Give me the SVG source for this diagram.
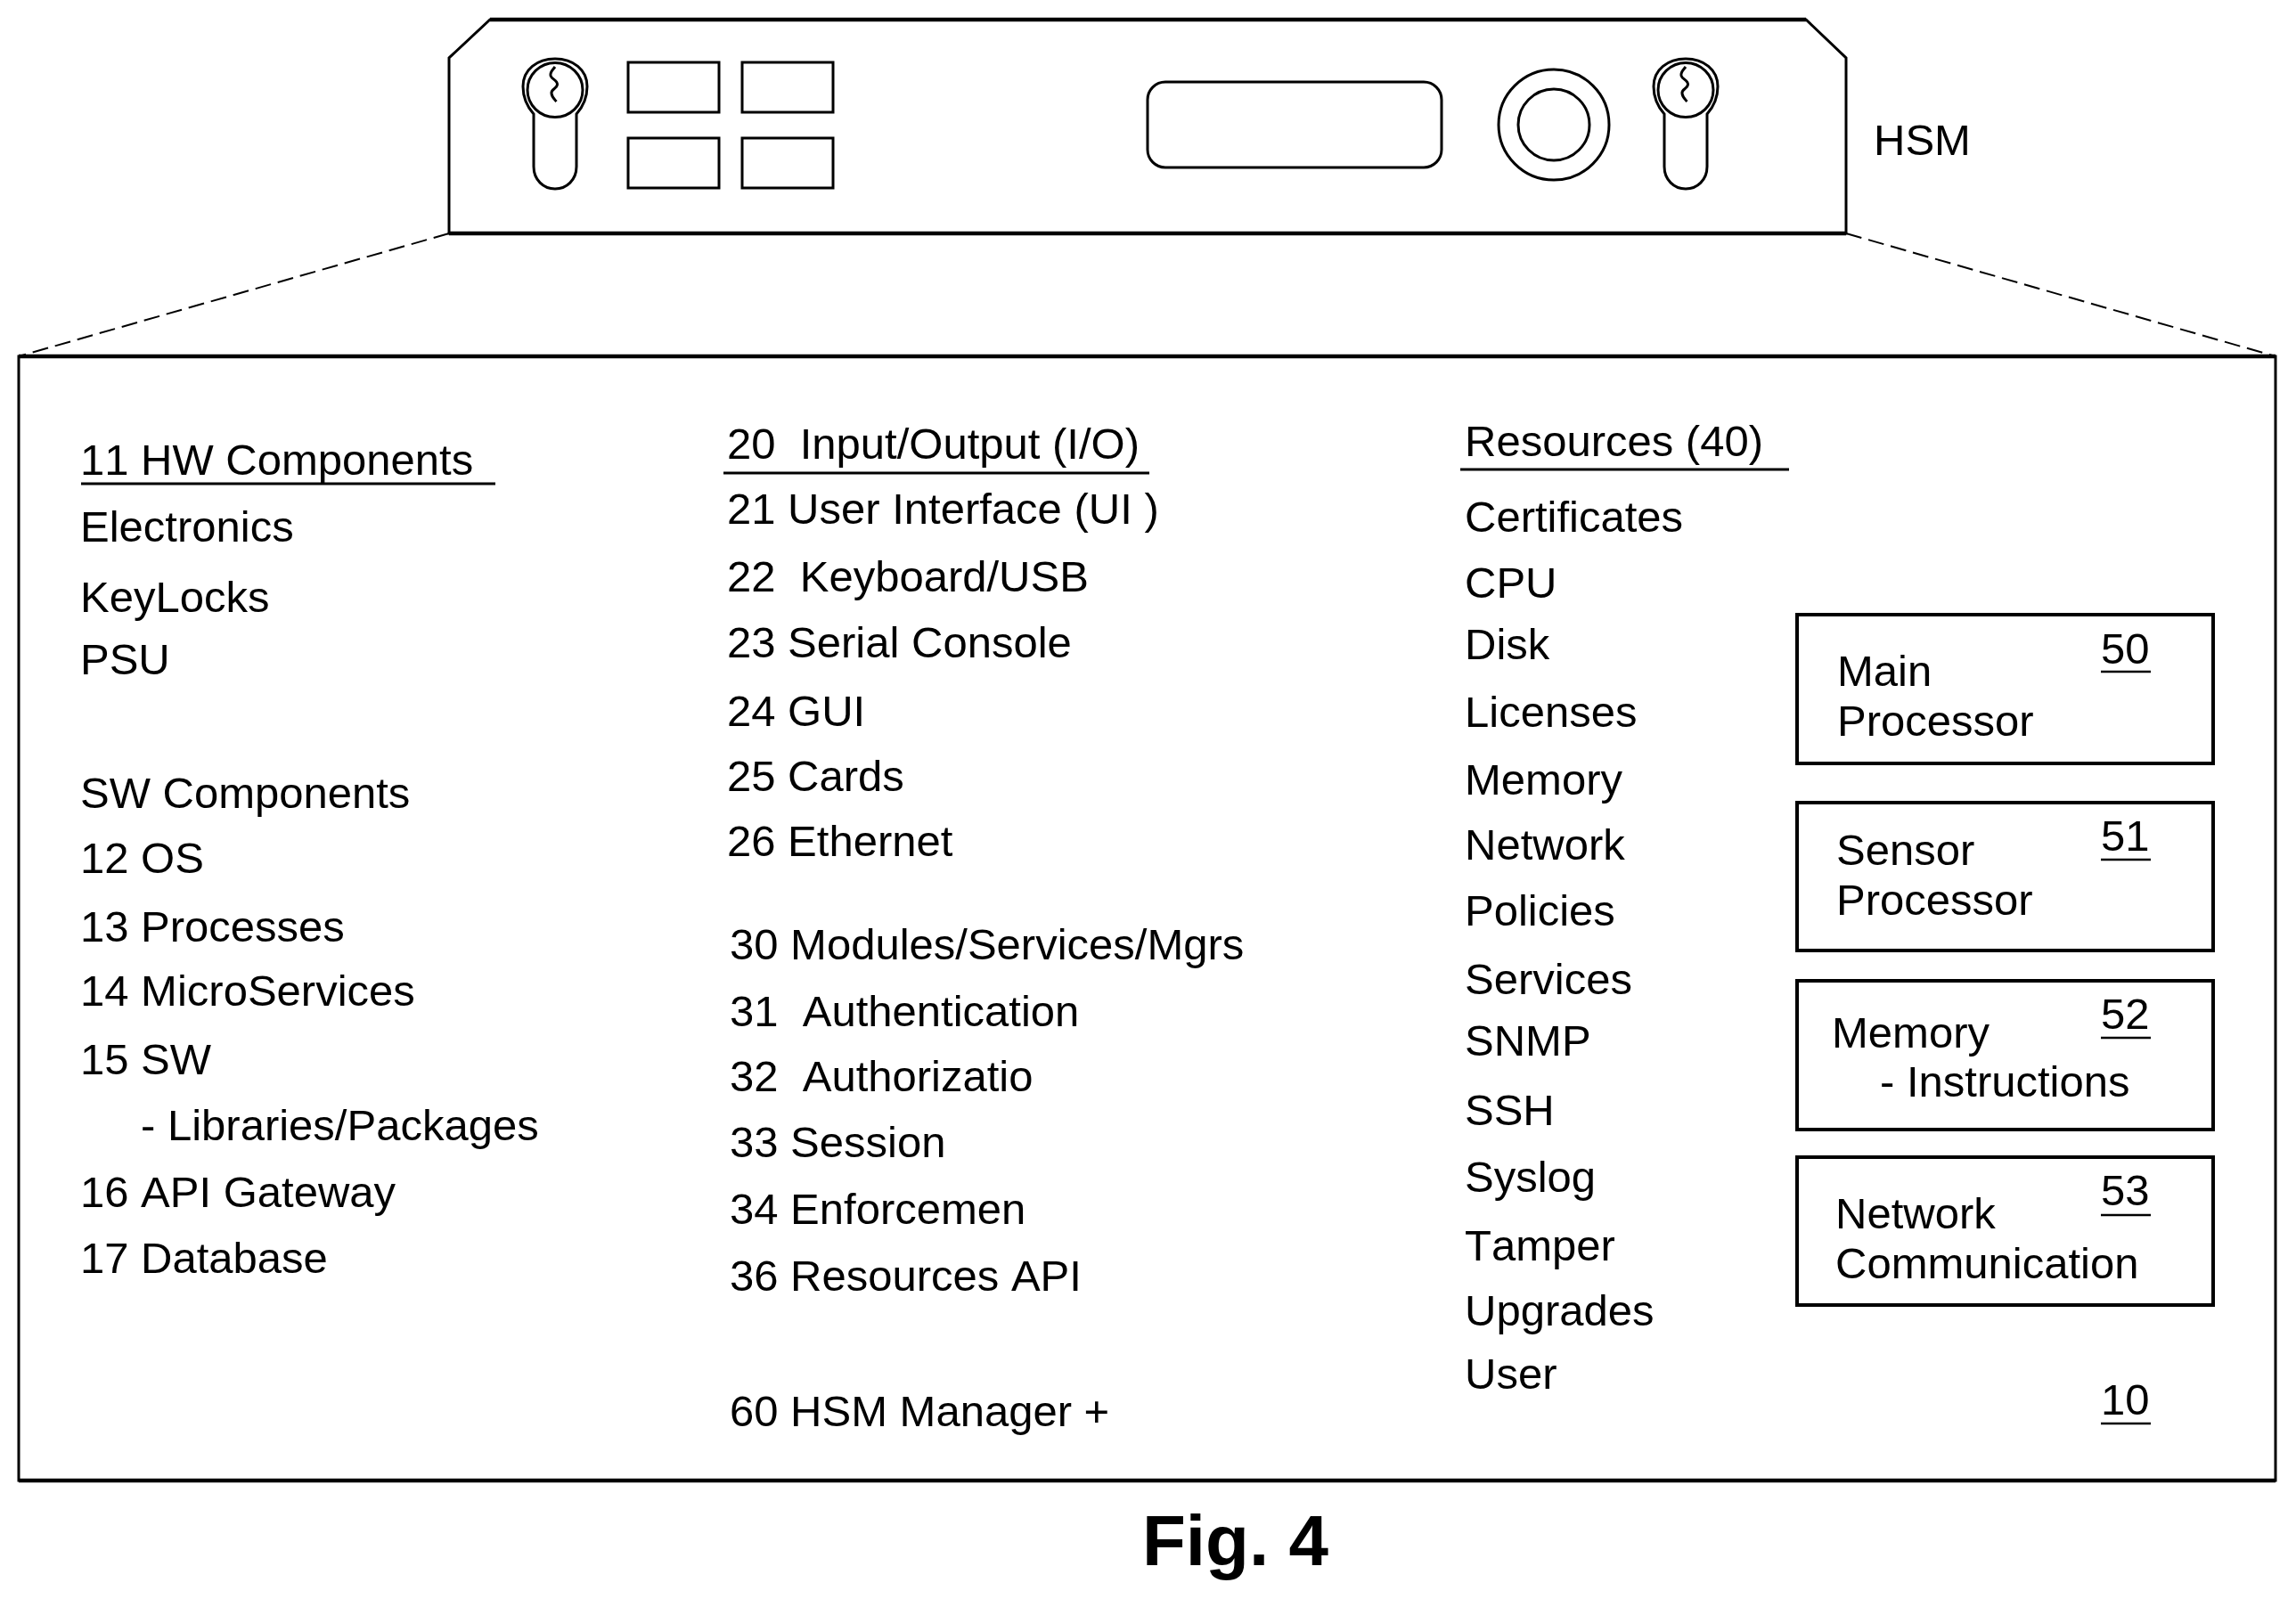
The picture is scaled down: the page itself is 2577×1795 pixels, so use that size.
<svg xmlns="http://www.w3.org/2000/svg" width="2577" height="1795" viewBox="0 0 2577 1795">
<style>
text{font-family:"Liberation Sans",Arial,sans-serif;font-size:49px;fill:#000;white-space:pre;font-kerning:none}
.s{fill:none;stroke:#000;stroke-width:3}
.t{fill:none;stroke:#000;stroke-width:4.5}
.b{fill:#fff;stroke:#000;stroke-width:4}
.u{fill:none;stroke:#000;stroke-width:2.5}
.d{fill:none;stroke:#000;stroke-width:2;stroke-dasharray:18 8}
.fig{font-weight:bold;font-size:80px}
</style>
<defs>
<g id="lock">
<path class="s" d="M-24 29C-32 20-36 9-36 -2C-36 -21-20 -33 0 -33C20 -33 36 -21 36 -2C36 9 32 20 24 29V88C24 103 13 113 0 113C-13 113-24 103-24 88Z"/>
<ellipse class="s" cx="0" cy="2" rx="31" ry="30.5"/>
<path class="s" d="M0 -24C-3 -20-6 -18-5 -14C-4 -10 3 -9 2.500 -4C2 1-5 1-4 6C-3.500 10-1 12 1.500 15"/>
</g>
</defs>
<g id="connectors">
<path class="d" d="M504 262L21 400"/>
<path class="d" d="M2072 262L2554 400"/>
</g>
<g id="hsm">
<path class="s" d="M550 22H2027L2072 65V262H504V65Z"/>
<path class="t" d="M550 22H2027M504 262H2072"/>
<use href="#lock" x="623" y="99"/>
<rect class="s" x="705" y="70" width="102" height="56"/>
<rect class="s" x="833" y="70" width="102" height="56"/>
<rect class="s" x="705" y="155" width="102" height="56"/>
<rect class="s" x="833" y="155" width="102" height="56"/>
<rect class="s" x="1288" y="92" width="330" height="96" rx="20"/>
<circle class="s" cx="1744" cy="140" r="62"/>
<circle class="s" cx="1744" cy="140" r="40"/>
<use href="#lock" x="1892" y="99"/>
<text x="2103" y="174">HSM</text>
</g>
<g id="main-box">
<rect class="s" x="21" y="400" width="2533" height="1262"/>
<path class="t" d="M21 400H2554M21 1662H2554"/>
</g>
<g id="hw-components">
<text x="90" y="533">11 HW Components</text>
<path class="s" d="M91 543H556"/>
<text x="90" y="608">Electronics</text>
<text x="90" y="687">KeyLocks</text>
<text x="90" y="757">PSU</text>
</g>
<g id="sw-components">
<text x="90" y="907">SW Components</text>
<text x="90" y="980">12 OS</text>
<text x="90" y="1057">13 Processes</text>
<text x="90" y="1129">14 MicroServices</text>
<text x="90" y="1206">15 SW</text>
<text x="158" y="1280">- Libraries/Packages</text>
<text x="90" y="1355">16 API Gateway</text>
<text x="90" y="1429">17 Database</text>
</g>
<g id="io">
<text x="816" y="515">20  Input/Output (I/O)</text>
<path class="s" d="M812 531H1290"/>
<text x="816" y="588">21 User Interface (UI )</text>
<text x="816" y="664">22  Keyboard/USB</text>
<text x="816" y="738">23 Serial Console</text>
<text x="816" y="815">24 GUI</text>
<text x="816" y="888">25 Cards</text>
<text x="816" y="961">26 Ethernet</text>
</g>
<g id="modules">
<text x="819" y="1077">30 Modules/Services/Mgrs</text>
<text x="819" y="1152">31  Authentication</text>
<text x="819" y="1225">32  Authorizatio</text>
<text x="819" y="1299">33 Session</text>
<text x="819" y="1374">34 Enforcemen</text>
<text x="819" y="1449">36 Resources API</text>
<text x="819" y="1601">60 HSM Manager +</text>
</g>
<g id="resources">
<text x="1644" y="512">Resources (40)</text>
<path class="s" d="M1639 527H2008"/>
<text x="1644" y="597">Certificates</text>
<text x="1644" y="671">CPU</text>
<text x="1644" y="740">Disk</text>
<text x="1644" y="816">Licenses</text>
<text x="1644" y="892">Memory</text>
<text x="1644" y="965">Network</text>
<text x="1644" y="1039">Policies</text>
<text x="1644" y="1116">Services</text>
<text x="1644" y="1185">SNMP</text>
<text x="1644" y="1263">SSH</text>
<text x="1644" y="1338">Syslog</text>
<text x="1644" y="1415">Tamper</text>
<text x="1644" y="1488">Upgrades</text>
<text x="1644" y="1559">User</text>
</g>
<g id="node-50">
<rect class="b" x="2017" y="690" width="467" height="167"/>
<text x="2062" y="770">Main</text>
<text x="2062" y="826">Processor</text>
<text x="2358" y="745">50</text>
<path class="u" d="M2358 754H2414"/>
</g>
<g id="node-51">
<rect class="b" x="2017" y="901" width="467" height="166"/>
<text x="2061" y="971">Sensor</text>
<text x="2061" y="1027">Processor</text>
<text x="2358" y="955">51</text>
<path class="u" d="M2358 965H2414"/>
</g>
<g id="node-52">
<rect class="b" x="2017" y="1101" width="467" height="167"/>
<text x="2056" y="1176">Memory</text>
<text x="2110" y="1231">- Instructions</text>
<text x="2358" y="1155">52</text>
<path class="u" d="M2358 1165H2414"/>
</g>
<g id="node-53">
<rect class="b" x="2017" y="1299" width="467" height="166"/>
<text x="2060" y="1379">Network</text>
<text x="2060" y="1435">Communication</text>
<text x="2358" y="1353">53</text>
<path class="u" d="M2358 1364H2414"/>
</g>
<g id="label-10">
<text x="2358" y="1588">10</text>
<path class="u" d="M2358 1598H2414"/>
</g>
<text class="fig" x="1282" y="1757">Fig. 4</text>
</svg>
